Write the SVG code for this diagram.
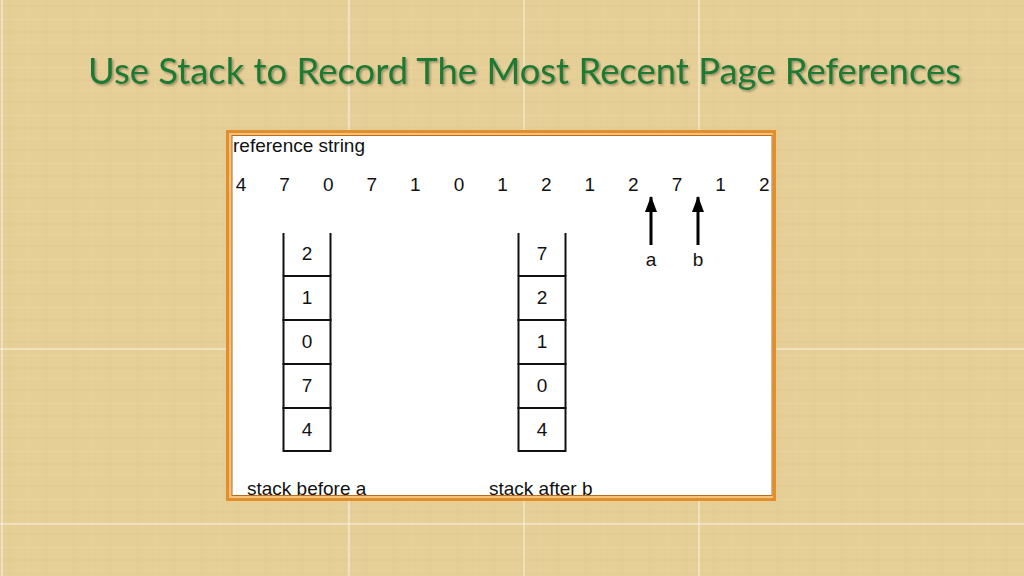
<svg xmlns="http://www.w3.org/2000/svg" width="1024" height="576" viewBox="0 0 1024 576">
<defs>
<pattern id="papyrus" width="64" height="48" patternUnits="userSpaceOnUse">
<rect width="64" height="48" fill="#e6cf97"/>
<rect x="0" y="5" width="64" height="2" fill="#dcc285" opacity="0.25"/>
<rect x="0" y="19" width="64" height="1" fill="#f0dca8" opacity="0.35"/>
<rect x="0" y="31" width="64" height="2" fill="#d9bf82" opacity="0.2"/>
<rect x="0" y="42" width="64" height="1" fill="#efdba6" opacity="0.3"/>
<rect x="9" y="0" width="2" height="48" fill="#dcc386" opacity="0.2"/>
<rect x="27" y="0" width="1" height="48" fill="#f0dda9" opacity="0.3"/>
<rect x="45" y="0" width="2" height="48" fill="#d8be80" opacity="0.18"/>
</pattern>
<filter id="shadow" x="-5%" y="-30%" width="110%" height="160%">
<feDropShadow dx="1.5" dy="1.5" stdDeviation="1" flood-color="#000" flood-opacity="0.35"/>
</filter>
<marker id="head" viewBox="0 0 16 12" refX="15" refY="6" markerWidth="16" markerHeight="12" markerUnits="userSpaceOnUse" orient="auto">
<path d="M0,0 L16,6 L0,12 Z" fill="#000"/>
</marker>
<style>
.t{font-family:"Liberation Sans",Arial,sans-serif;font-size:19px;fill:#111}
.c{text-anchor:middle}
.cell{fill:#fff;stroke:#111;stroke-width:2}
.side{stroke:#111;stroke-width:2;fill:none}
.grid{stroke:#fff;stroke-width:1;opacity:0.75}
.arr{stroke:#000;stroke-width:3;fill:none}
</style>
</defs>
<rect width="1024" height="576" fill="url(#papyrus)"/>
<g id="grid">
<line class="grid" x1="349" y1="0" x2="349" y2="576"/>
<line class="grid" x1="524" y1="0" x2="524" y2="576"/>
<line class="grid" x1="699" y1="0" x2="699" y2="576"/>
<line class="grid" x1="0" y1="349" x2="1024" y2="349"/>
<line class="grid" x1="0" y1="524" x2="1024" y2="524"/>
<line class="grid" x1="2" y1="0" x2="2" y2="576"/>
</g>
<g id="title">
<text x="88" y="84" textLength="873" lengthAdjust="spacingAndGlyphs" font-family="Lato,'Open Sans',sans-serif" font-size="37" fill="#1f7a36" filter="url(#shadow)">Use Stack to Record The Most Recent Page References</text>
</g>
<g id="frame">
<rect x="227.5" y="131.5" width="547" height="368" fill="#f4c27a" stroke="#e08f2c" stroke-width="3"/>
<rect x="232" y="135.5" width="540" height="360" fill="#fff" stroke="#b86c1c" stroke-width="1"/>
</g>
<g id="refstring">
<text class="t" x="233" y="152">reference string</text>
<text class="t c" x="241" y="191">4</text>
<text class="t c" x="284.6" y="191">7</text>
<text class="t c" x="328.2" y="191">0</text>
<text class="t c" x="371.8" y="191">7</text>
<text class="t c" x="415.4" y="191">1</text>
<text class="t c" x="459" y="191">0</text>
<text class="t c" x="502.6" y="191">1</text>
<text class="t c" x="546.2" y="191">2</text>
<text class="t c" x="589.8" y="191">1</text>
<text class="t c" x="633.4" y="191">2</text>
<text class="t c" x="677" y="191">7</text>
<text class="t c" x="720.6" y="191">1</text>
<text class="t c" x="764.2" y="191">2</text>
</g>
<g id="stack-before">
<g id="sb-1"><path class="side" d="M283.5,233 V276 M330.5,233 V276"/><line class="side" x1="283.5" y1="276" x2="330.5" y2="276"/><text class="t c" x="307" y="260">2</text></g>
<g id="sb-2"><rect class="cell" x="283.5" y="276" width="47" height="44"/><text class="t c" x="307" y="304">1</text></g>
<g id="sb-3"><rect class="cell" x="283.5" y="320" width="47" height="44"/><text class="t c" x="307" y="348">0</text></g>
<g id="sb-4"><rect class="cell" x="283.5" y="364" width="47" height="44"/><text class="t c" x="307" y="392">7</text></g>
<g id="sb-5"><rect class="cell" x="283.5" y="408" width="47" height="43"/><text class="t c" x="307" y="436">4</text></g>
<text class="t" x="247" y="495">stack before a</text>
</g>
<g id="stack-after">
<g id="sa-1"><path class="side" d="M518.5,233 V276 M565.5,233 V276"/><line class="side" x1="518.5" y1="276" x2="565.5" y2="276"/><text class="t c" x="542" y="260">7</text></g>
<g id="sa-2"><rect class="cell" x="518.5" y="276" width="47" height="44"/><text class="t c" x="542" y="304">2</text></g>
<g id="sa-3"><rect class="cell" x="518.5" y="320" width="47" height="44"/><text class="t c" x="542" y="348">1</text></g>
<g id="sa-4"><rect class="cell" x="518.5" y="364" width="47" height="44"/><text class="t c" x="542" y="392">0</text></g>
<g id="sa-5"><rect class="cell" x="518.5" y="408" width="47" height="43"/><text class="t c" x="542" y="436">4</text></g>
<text class="t" x="489" y="495">stack after b</text>
</g>
<g id="connectors">
<line class="arr" x1="651" y1="245" x2="651" y2="197" marker-end="url(#head)"/>
<line class="arr" x1="698" y1="245" x2="698" y2="197" marker-end="url(#head)"/>
</g>
<g id="labels">
<text class="t c" x="651" y="266">a</text>
<text class="t c" x="698" y="266">b</text>
</g>
</svg>
